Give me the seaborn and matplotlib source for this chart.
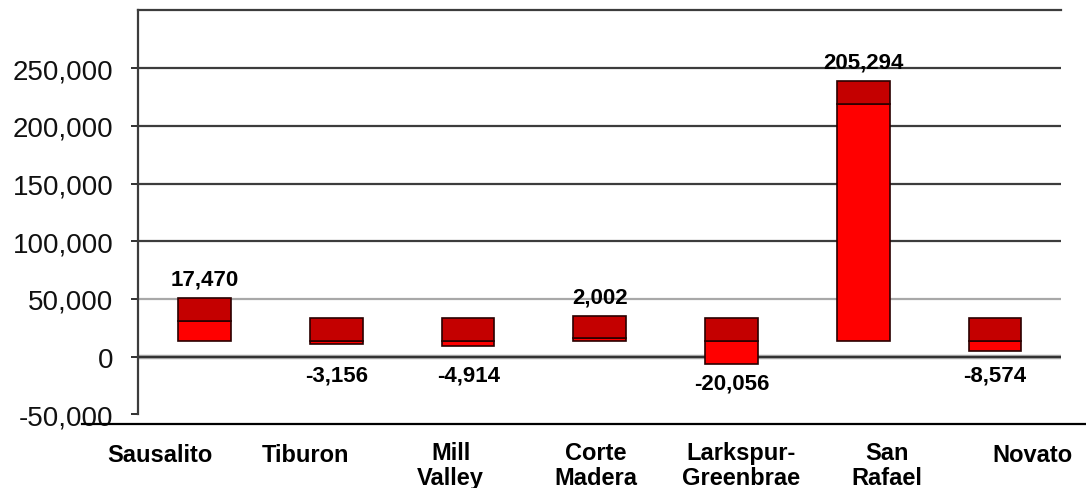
import matplotlib
matplotlib.use("Agg")
import matplotlib.pyplot as plt
import seaborn as sns
import numpy as np
from matplotlib.ticker import FuncFormatter

# ---- data ----
cities = ["Sausalito", "Tiburon", "Mill\nValley", "Corte\nMadera",
          "Larkspur-\nGreenbrae", "San\nRafael", "Novato"]
changes = [17470, -3156, -4914, 2002, -20056, 205294, -8574]
base_level = 13800          # level where every change starts
band_height = 19600         # height of the dark cap band
y_ticks = [-50000, 0, 50000, 100000, 150000, 200000, 250000]
grid_levels = [0, 50000, 100000, 150000, 200000, 250000]

sns.set_theme(style="white")
plt.rcParams["font.family"] = ["Liberation Sans", "DejaVu Sans"]
plt.rcParams["axes.unicode_minus"] = False

W, H = 1086, 489
fig = plt.figure(figsize=(W / 100, H / 100), dpi=100)
ax = fig.add_axes([138.3 / W, 1 - 427 / H, (1060.7 - 138.3) / W, (427 - 11.3) / H])

x_idx = list(range(len(cities)))
changes_arr = np.array(changes, dtype=float)
bright_bottom = np.full(len(cities), base_level, dtype=float)
dark_bottom = base_level + np.maximum(changes_arr, 0)
dark_heights = np.full(len(cities), band_height, dtype=float)

# grid lines
for g in grid_levels:
    if g == 50000:
        ax.axhline(g, color="#a8a8a8", lw=1.6, zorder=1)
    elif g == 0:
        ax.axhline(g, color="#a0a0a0", lw=3.2, zorder=1)
        ax.axhline(g, color="#303030", lw=1.4, zorder=1.1)
    else:
        ax.axhline(g, color="#3c3c3c", lw=1.6, zorder=1)

# bright (change) segment
sns.barplot(x=x_idx, y=changes_arr, color="#ff0000", saturation=1, width=0.40,
            edgecolor="#2a0000", linewidth=1.2, ax=ax, zorder=3, native_scale=True)
n_first = len(ax.patches)
for p, b in zip(ax.patches[:n_first], bright_bottom):
    p.set_y(b)

# dark cap segment
sns.barplot(x=x_idx, y=dark_heights, color="#c40000", saturation=1, width=0.40,
            edgecolor="#2a0000", linewidth=1.2, ax=ax, zorder=3, native_scale=True)
for p, b in zip(ax.patches[n_first:], dark_bottom):
    p.set_y(b)

ax.set_xlim(-0.505, 6.5)
ax.set_ylim(-60000, 300000)
ax.set_xticks([])
ax.set_xlabel("")
ax.set_ylabel("")

# value labels
for i, c in enumerate(changes):
    if c >= 0:
        top = base_level + c + band_height
        ax.annotate(f"{c:,}", xy=(i, top), xytext=(0, 13.5), textcoords="offset points",
                    ha="center", va="center", fontsize=16, fontweight="bold", color="black")
    else:
        anchor = min(0, base_level + c)
        ax.annotate(f"{c:,}", xy=(i, anchor), xytext=(0, -13.5), textcoords="offset points",
                    ha="center", va="center", fontsize=16, fontweight="bold", color="black")

# y axis
ax.set_yticks(y_ticks)
ax.yaxis.set_major_formatter(FuncFormatter(lambda v, p: f"{v:,.0f}"))
ax.tick_params(axis="y", which="major", left=True, direction="out", length=5, width=1.3,
               color="#202020", labelsize=20, pad=13, labelcolor="#111111")

for s in ["right", "bottom"]:
    ax.spines[s].set_visible(False)
ax.spines["left"].set_color("#3c3c3c")
ax.spines["left"].set_linewidth(1.6)
ax.spines["left"].set_bounds(-50000, 300000)
ax.spines["top"].set_color("#3c3c3c")
ax.spines["top"].set_linewidth(1.6)

# category axis: the long rule under the plot with its labels
ax2 = fig.add_axes([82 / W, 1 - 425 / H, (W - 82) / W, 0.001])
ax2.patch.set_visible(False)
ax2.set_xlim(-0.537, 6.371)
ax2.set_ylim(0, 1)
ax2.set_xticks([])
ax2.set_yticks([])
for s in ["left", "right", "top"]:
    ax2.spines[s].set_visible(False)
ax2.spines["bottom"].set_color("black")
ax2.spines["bottom"].set_linewidth(1.6)
for i, name in enumerate(cities):
    off = -29.5 if "\n" in name else -22
    ax2.annotate(name, xy=(i, 0), xycoords=("data", "axes fraction"), xytext=(0, off),
                 textcoords="offset points", ha="center", va="center", fontsize=17,
                 fontweight="bold", linespacing=1.15, color="black")

fig.savefig("out.png", dpi=100)
